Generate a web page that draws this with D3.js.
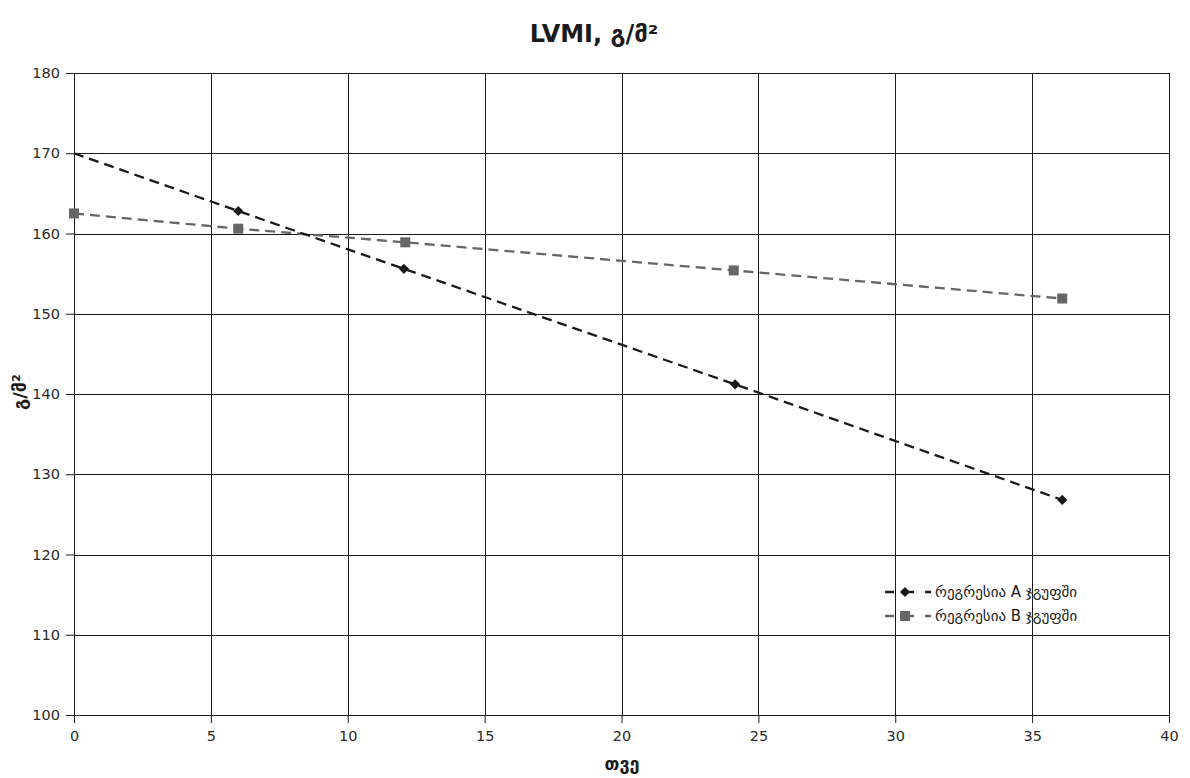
<!DOCTYPE html>
<html>
<head>
<meta charset="utf-8">
<script src="https://cdn.jsdelivr.net/npm/d3@7"></script>
<style>
  body { margin: 0; background: #fff; }
  svg { display: block; font-family: "DejaVu Sans", sans-serif; }
</style>
</head>
<body>
<svg id="chart" width="1190" height="778"></svg>
<script>
// Data
const monthsA = [0, 6, 12.05, 24.15, 36.1];
const valuesA = [170, 162.8, 155.6, 141.2, 126.8];
const markedA = [false, true, true, true, true];
const monthsB = [0, 6, 12.1, 24.1, 36.1];
const valuesB = [162.5, 160.6, 158.9, 155.4, 151.9];
const xTicks = [0, 5, 10, 15, 20, 25, 30, 35, 40];
const yTicks = [100, 110, 120, 130, 140, 150, 160, 170, 180];
const seriesNames = ['რეგრესია A ჯგუფში', 'რეგრესია B ჯგუფში'];

const svg = d3.select('svg#chart');
const margin = {top: 73, right: 21, bottom: 63, left: 74};
const width = +svg.attr('width') - margin.left - margin.right;
const height = +svg.attr('height') - margin.top - margin.bottom;

const x = d3.scaleLinear().domain([0, 40]).range([0, width]);
const y = d3.scaleLinear().domain([100, 180]).range([height, 0]);

const g = svg.append('g').attr('transform', `translate(${margin.left},${margin.top})`);

// grid
g.append('g').selectAll('line').data(xTicks).join('line')
  .attr('x1', d => Math.round(x(d)) + 0.5).attr('x2', d => Math.round(x(d)) + 0.5)
  .attr('y1', 0).attr('y2', height)
  .attr('stroke', '#1a1a1a').attr('stroke-width', 1);
g.append('g').selectAll('line').data(yTicks).join('line')
  .attr('y1', d => Math.round(y(d)) + 0.5).attr('y2', d => Math.round(y(d)) + 0.5)
  .attr('x1', 0).attr('x2', width)
  .attr('stroke', '#1a1a1a').attr('stroke-width', 1);

// axes
const xAxis = g.append('g').attr('transform', `translate(0,${height})`)
  .call(d3.axisBottom(x).tickValues(xTicks).tickSize(8).tickPadding(8));
const yAxis = g.append('g')
  .call(d3.axisLeft(y).tickValues(yTicks).tickSize(8).tickPadding(6));
[xAxis, yAxis].forEach(a => {
  a.select('.domain').attr('stroke', '#1a1a1a');
  a.selectAll('.tick line').attr('stroke', '#1a1a1a');
  a.selectAll('.tick text').attr('fill', '#2a2a2a').attr('font-size', 14.5)
    .attr('font-family', '"DejaVu Sans", sans-serif');
});

// lines
const line = d3.line().x(d => x(d[0])).y(d => y(d[1]));
const dataA = monthsA.map((m, i) => [m, valuesA[i]]);
const dataB = monthsB.map((m, i) => [m, valuesB[i]]);

g.append('path').datum(dataB).attr('d', line)
  .attr('fill', 'none').attr('stroke', '#666').attr('stroke-width', 2.3)
  .attr('stroke-dasharray', '10,6');
g.append('path').datum(dataA).attr('d', line)
  .attr('fill', 'none').attr('stroke', '#1a1a1a').attr('stroke-width', 2.3)
  .attr('stroke-dasharray', '10,6');

function addDiamond (sel) {
  return sel.append('rect').attr('x', -3.6).attr('y', -3.6)
    .attr('width', 7.2).attr('height', 7.2).attr('fill', '#1a1a1a');
}

g.append('g').selectAll('rect').data(dataB).join('rect')
  .attr('x', d => x(d[0]) - 5).attr('y', d => y(d[1]) - 5)
  .attr('width', 10).attr('height', 10).attr('fill', '#666');
g.append('g').selectAll('g').data(dataA.filter((d, i) => markedA[i])).join('g')
  .attr('transform', d => `translate(${x(d[0])},${y(d[1])}) rotate(45)`)
  .call(addDiamond);

// legend
const legend = svg.append('g').attr('transform', 'translate(885,592)');
const legendColors = ['#1a1a1a', '#666'];
seriesNames.forEach((name, i) => {
  const row = legend.append('g').attr('transform', `translate(0,${i * 24})`);
  row.append('line').attr('x1', 0).attr('x2', 46).attr('y1', 0).attr('y2', 0)
    .attr('stroke', legendColors[i]).attr('stroke-width', 2.3)
    .attr('stroke-dasharray', '9,11');
  if (i === 0) {
    row.append('g').attr('transform', 'translate(20,0) rotate(45)').call(addDiamond);
  } else {
    row.append('rect').attr('x', 15).attr('y', -5).attr('width', 10).attr('height', 10)
      .attr('fill', legendColors[i]);
  }
  row.append('text').attr('x', 50).attr('y', 0).attr('dy', '0.35em')
    .attr('font-size', 15).attr('fill', '#1a1a1a').text(name);
});

// title and axis labels
svg.append('text').attr('x', 594).attr('y', 42).attr('text-anchor', 'middle')
  .attr('font-size', 24).attr('font-weight', 'bold').attr('fill', '#1a1a1a')
  .text('LVMI, გ/მ²');
svg.append('text').attr('x', 622).attr('y', 770).attr('text-anchor', 'middle')
  .attr('font-size', 18).attr('font-weight', 'bold').attr('fill', '#1a1a1a')
  .text('თვე');
svg.append('text').attr('transform', 'translate(26,392) rotate(-90)')
  .attr('text-anchor', 'middle')
  .attr('font-size', 18).attr('font-weight', 'bold').attr('fill', '#1a1a1a')
  .text('გ/მ²');
</script>
</body>
</html>
